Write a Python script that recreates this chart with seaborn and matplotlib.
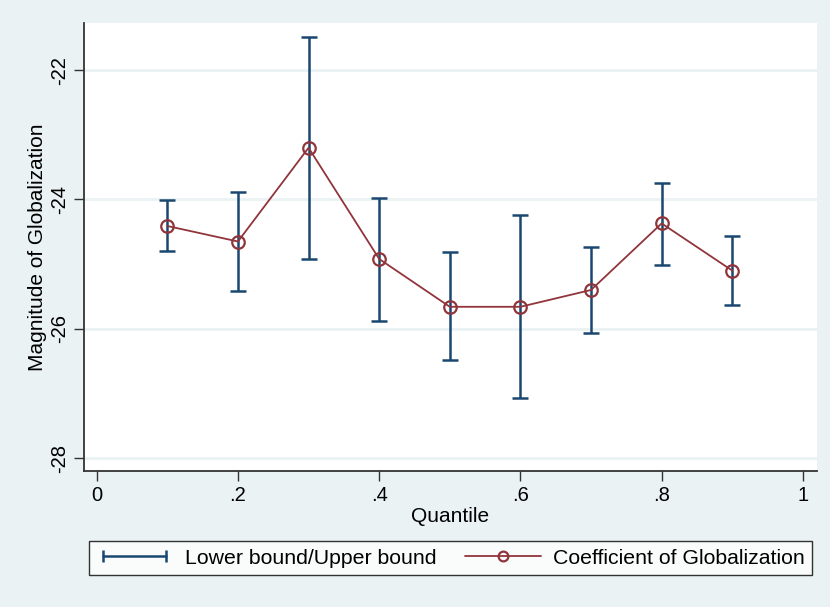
import numpy as np
import pandas as pd
import matplotlib
matplotlib.use('Agg')
import matplotlib.pyplot as plt
import seaborn as sns
from matplotlib.lines import Line2D
from matplotlib.legend_handler import HandlerLine2D

# values
quantile = [0.1, 0.2, 0.3, 0.4, 0.5, 0.6, 0.7, 0.8, 0.9]
coef = [-24.41, -24.65, -23.20, -24.92, -25.66, -25.66, -25.40, -24.37, -25.10]
lower = [-24.79, -25.42, -24.92, -25.88, -26.49, -27.07, -26.07, -25.01, -25.63]
upper = [-24.01, -23.89, -21.49, -23.98, -24.82, -24.24, -24.74, -23.74, -24.57]
x_ticks = [0, 0.2, 0.4, 0.6, 0.8, 1]
x_tick_labels = ['0', '.2', '.4', '.6', '.8', '1']
y_ticks = [-28, -26, -24, -22]
y_tick_labels = ['-28', '-26', '-24', '-22']

BG = '#EAF2F3'
NAVY = '#1a476f'
RED = '#90353b'

sns.set_style("white")
plt.rcParams['font.family'] = ['Liberation Sans', 'DejaVu Sans']
plt.rcParams['text.color'] = 'black'
plt.rcParams['axes.labelcolor'] = 'black'
plt.rcParams['xtick.color'] = 'black'
plt.rcParams['ytick.color'] = 'black'

df = pd.DataFrame({'q': quantile, 'coef': coef, 'lo': lower, 'hi': upper})

fig = plt.figure(figsize=(8.3, 6.07), dpi=100, facecolor=BG)
ax = fig.add_axes([84 / 830, 1 - 471 / 607, (817 - 84) / 830, (471 - 23) / 607])
ax.set_facecolor('white')

# grid lines
for yt in y_ticks:
    ax.axhline(yt, color=BG, lw=2, zorder=0)

# lower / upper bound bars
ax.errorbar(df['q'], df['lo'], yerr=[np.zeros(len(df)), df['hi'] - df['lo']],
            fmt='none', ecolor=NAVY, elinewidth=1.8, capsize=5.5, capthick=1.8,
            zorder=2)

sns.lineplot(data=df, x='q', y='coef', ax=ax, color=RED, lw=1.3,
             marker='o', markersize=9, markerfacecolor='none',
             markeredgecolor=RED, markeredgewidth=1.6, zorder=3)

ax.set_xlim(-0.018, 1.02)
ax.set_ylim(-28.2, -21.27)
ax.set_xticks(x_ticks)
ax.set_xticklabels(x_tick_labels)
ax.set_yticks(y_ticks)
ax.set_yticklabels(y_tick_labels, rotation=90, va='center')
ax.tick_params(axis='both', direction='out', length=7, width=1,
               color='#333333', labelsize=14.5, pad=4, left=True, bottom=True)
ax.set_xlabel('Quantile', fontsize=15, labelpad=1)
ax.set_ylabel('Magnitude of Globalization', fontsize=15, labelpad=2)

for side in ['top', 'right']:
    ax.spines[side].set_visible(False)
for side in ['left', 'bottom']:
    ax.spines[side].set_color('#333333')
    ax.spines[side].set_linewidth(1.3)

h_bound = Line2D([], [], color=NAVY, lw=1.8, marker='|', markersize=9,
                 markeredgewidth=1.8)
h_coef = Line2D([], [], color=RED, lw=1.3, marker='o', markersize=7,
                markerfacecolor='none', markeredgewidth=1.6)
leg = fig.legend([h_bound, h_coef],
                 ['Lower bound/Upper bound', 'Coefficient of Globalization'],
                 handler_map={h_bound: HandlerLine2D(numpoints=2),
                              h_coef: HandlerLine2D(numpoints=1)},
                 loc='center', bbox_to_anchor=(450.5 / 830, 1 - 558 / 607),
                 ncol=2, fontsize=15.3, frameon=True, fancybox=False,
                 handlelength=3.6, handletextpad=0.55, columnspacing=1.35,
                 borderpad=0.35, borderaxespad=0)
leg.get_frame().set_edgecolor('black')
leg.get_frame().set_linewidth(1.0)
leg.get_frame().set_facecolor('white')

fig.savefig('out.png', dpi=100, facecolor=BG)
